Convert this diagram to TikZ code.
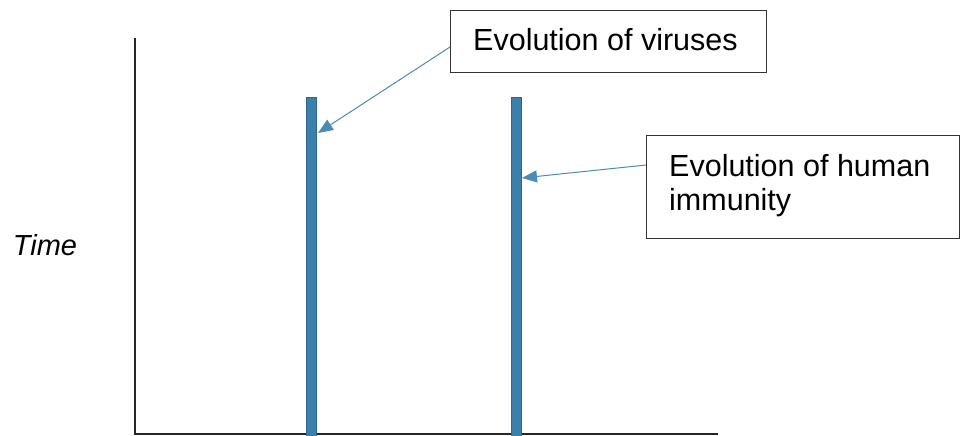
\documentclass[tikz,border=0pt]{standalone}
\usepackage{fontspec}
\setmainfont{Liberation Sans}
\usetikzlibrary{arrows.meta}
\definecolor{barblue}{HTML}{3B7FAB}
\definecolor{bardark}{HTML}{2C6690}
\definecolor{arrowblue}{HTML}{4A8CB3}
\tikzset{
  bar/.style={draw=bardark, fill=barblue, line width=0.8pt, minimum width=10pt, minimum height=339pt, inner sep=0pt, anchor=north west},
  axis/.style={draw=black!85, line width=1.6pt},
  frame/.style={draw=black!80, line width=1pt, fill=white, inner sep=0pt, anchor=north west},
  txt/.style={font=\fontsize{30.5}{35}\selectfont, inner sep=0pt, align=left},
  pointer/.style={draw=arrowblue, line width=1pt, -{Triangle[length=15pt,width=12pt]}},
}
\begin{document}
\begin{tikzpicture}[x=1pt,y=-1pt]
\useasboundingbox (0,0) rectangle (961,436);
\coordinate (origin) at (135,434);
\coordinate (ytop) at (135,38);
\coordinate (xend) at (718,434);
\draw[axis] (ytop) -- (origin) -- (xend);
\node[bar] (b1) at (306,97) {};
\node[bar] (b2) at (511,97) {};
\node[frame, minimum width=316pt, minimum height=62pt] (v) at (450,10) {};
\node[txt, anchor=base west] (vt) at (473,51) {Evolution of viruses};
\node[frame, minimum width=313pt, minimum height=103pt] (h) at (646,135) {};
\node[txt, anchor=base west] (ht1) at (669,176) {Evolution of human};
\node[txt, anchor=base west] (ht2) at (669,210) {immunity};
\node[font=\fontsize{29}{34}\selectfont\itshape, anchor=center] (t) at (45,245) {Time};
\coordinate (vtip) at (318,133);
\coordinate (htip) at (522,178);
\draw[pointer] (v.west |- 0,47) -- (vtip);
\draw[pointer] (h.west |- 0,165) -- (htip);
\end{tikzpicture}
\end{document}
